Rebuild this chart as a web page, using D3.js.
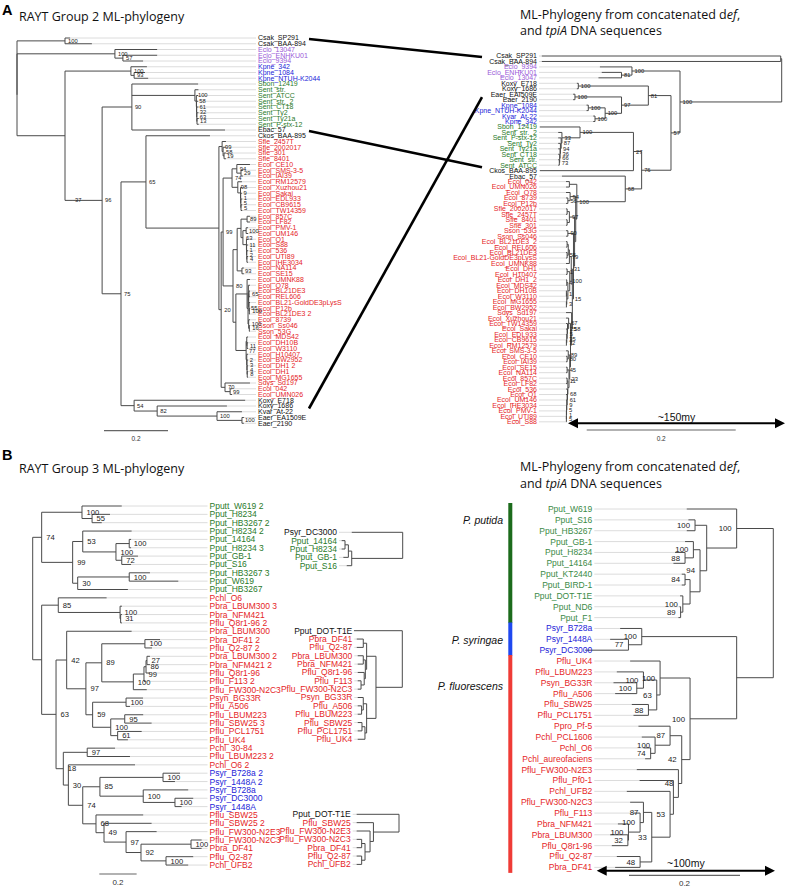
<!DOCTYPE html>
<html><head><meta charset="utf-8">
<script src="https://cdn.jsdelivr.net/npm/d3@7"></script>
<style>body{margin:0;background:#fff}</style>
</head><body>
<svg id="c" width="789" height="889" xmlns="http://www.w3.org/2000/svg"></svg>
<script>
// ---------------- DATA ----------------
// Trees in Newick form; the number after ':' is the node depth (distance from the root, substitutions/site);
// the text after ')' is the bootstrap support.
const treeA_left = `(
(Csak_SP291:0.166,Csak_BAA-894:0.234)100:0.150,
(
 (Eclo_13047:0.438,(Eclo_ENHKU01:0.438,Eclo_9394:0.394)57:0.331)100:0.306,
 (
  (Kpne_342:0.406,(Kpne_1084:0.400,Kpne_NTUH-K2044:0.410)93:0.366)100:0.356,
  (
   (
    (Sbon_12419:0.566,(Sent_str.:0.567,(Sent_ATCC:0.566,(Sent_str._2:0.566,(Sent_CT18:0.567,(Sent_Ty2:0.567,(Sent_Ty21a:0.568,Sent_P-stx-12:0.568)13:0.5625)63:0.562)32:0.5615)61:0.561)58:0.5605)100:0.556,
    Ebac_57:0.650
   )90:0.359,
   (
    (Ckos_BAA-895:0.603,
     (
      (Sfle_2457T:0.653,(Sfle_2002017:0.653,(Sfle_301:0.653,Sfle_8401:0.653)19:0.647)58:0.644)99:0.641,
      (
       (
        (
         (Ecol_CE10:0.728,(Ecol_SMS-3-5:0.706,Ecol_IAI39:0.706)29:0.700)94:0.687,
         (Ecol_RM12579:0.703,(Ecol_Xuzhou21:0.703,(Ecol_Sakai:0.703,(Ecol_EDL933:0.704,(Ecol_CB9615:0.704,Ecol_TW14359:0.704)5:0.700)5:0.6995)1:0.699)9:0.6985)98:0.690
        )74:0.672,
        (
         (
          ((Ecol_857C:0.728,Ecol_LF82:0.728)89:0.719,((Ecol_PMV-1:0.722,Ecol_UM146:0.722)100:0.716,(Ecol_O1:0.722,(Ecol_S88:0.722,(Ecol_536:0.722,(Ecol_UTI89:0.722,Ecol_IHE3034:0.722)4:0.7185)2:0.718)1:0.7175)11:0.717)63:0.706):0.700,
          (Ecol_NA114:0.709,Ecol_SE15:0.709)93:0.703
         ):0.688,
         (
          (Ecol_UMNK88:0.728,((Ecol_O78:0.728,((Ecol_BL21DE3:0.728,Ecol_REL606:0.728)65:0.725,(Ecol_BL21-GoldDE3pLysS:0.728,(Ecol_P12b:0.728,Ecol_BL21DE3 2:0.728)100:0.726):0.725):0.724):0.723,(Ecol_8739:0.728,(Sson_Ss046:0.728,Sson_53G:0.728)16:0.726)100:0.724)55:0.722):0.719,
          ((Ecol_MDS42:0.722,(Ecol_DH10B:0.722,Ecol_W3110:0.722)11:0.719):0.718,(Ecol_H10407:0.722,(Ecol_BW2952:0.722,(Ecol_DH1 2:0.722,(Ecol_DH1:0.722,Ecol_MG1655:0.722)8:0.7195)4:0.719)3:0.7185)2:0.718)77:0.716
         ):0.684
        )80:0.675
       )99:0.644,
       (Sdys_Sd197:0.728,(Ecol_042:0.672,Ecol_UMN026:0.672)99:0.666)70:0.650
      )20:0.638
     ):0.631
    )65:0.403,
    (Koxy_E718:0.713,(Koxy_1686:0.656,(Kvar_At-22:0.703,(Eaer_EA1509E:0.709,Eaer_2190:0.709)100:0.703)100:0.625)82:0.438)54:0.366
   )75:0.325
  )96:0.266
 )37:0.172
):0.150
):0`;

const treeA_right = `(
(Csak_SP291:0.322,Csak_BAA-894:0.322):0.0013,
(
 (Eclo_9394:0.244,(Eclo_ENHKU01:0.2416,Eclo_13047:0.246)81:0.215)100:0.201,
 (
  (
   (Koxy_E718:0.275,Koxy_1686:0.275)100:0.273,
   ((Eaer_EAI509E:0.280,Eaer_2190:0.280)100:0.2775,((Kpne_1084:0.262,Kpne_NTUH-K2044:0.262)100:0.2596,(Kvar_At-22:0.253,Kpne_342:0.253)100:0.2506)100:0.237)97:0.215
  )81:0.179,
  (
   (
    (Sbon_12419:0.3245,(Sent_str._2:0.300,(Sent_P-stx-12:0.300,(Sent_Ty2:0.300,(Sent_Ty21a:0.300,(Sent_CT18:0.300,(Sent_str.:0.300,Sent_ATCC:0.300)73:0.2985)66:0.298)36:0.2975)94:0.297)87:0.296)33:0.295)100:0.2707,
    Ckos_BAA-895:0.3245
   )27:0.199,
   (
    Ebac_57:0.295,
    (
     (Ecol_042:0.2895,Ecol_UMN026:0.2895):0.285,
     (
      (Ecol_O78:0.2895,(Ecol_8739:0.2895,Ecol_P12b:0.2895)56:0.287)94:0.284,
      (
       ((Sfle_2002017:0.2895,Sfle_2457T:0.2895):0.288,(Sfle_8401:0.2895,Sfle_301:0.2895):0.288)97:0.285,
       (
        (Sson_53G:0.2895,Sson_Ss046:0.2895)90:0.287,
        (
         (
          (((Ecol_BL21DE3_2:0.2895,Ecol_REL606:0.2895):0.288,(Ecol_BL21DE3:0.2895,Ecol_BL21-GoldDE3pLysS:0.2895)55:0.288):0.2865,Ecol_UMNK88:0.2895)79:0.285,
          ((Ecol_DH1:0.2895,Ecol_H10407:0.2895)1:0.288,((Ecol_DH1_2:0.2895,Ecol_MDS42:0.2895)4:0.2885,((Ecol_DH10B:0.2895,Ecol_W3110:0.2895)1:0.289,(Ecol_MG1655:0.2895,Ecol_BW2952:0.2895)3:0.289):0.2885):0.287)100:0.2845
         )31:0.2825,
         (
          Sdys_Sd197:0.2895,
          (
           (Ecol_Xuzhou21:0.2895,(Ecol_TW14359:0.2895,(Ecol_Sakai:0.2895,(Ecol_EDL933:0.2895,(Ecol_CB9615:0.2895,Ecol_RM12579:0.2895)72:0.289)35:0.2885)5:0.288)25:0.2875)67:0.286,
           (
            (Ecol_SMS-3-5:0.2895,(Ecol_CE10:0.2895,Ecol_IAI39:0.2895)80:0.288)89:0.2865,
            ((Ecol_SE15:0.2895,Ecol_NA114:0.2895)45:0.288,((Ecol_857C:0.2895,Ecol_LF82:0.2895)11:0.288,(Ecol_536:0.2895,(Ecol_O1:0.2895,(Ecol_UM146:0.2895,(Ecol_IHE3034:0.2895,(Ecol_PMV-1:0.2895,(Ecol_UTI89:0.2895,Ecol_S88:0.2895)5:0.289)1:0.289)5:0.2888)9:0.2885)61:0.288)68:0.2875):0.287)23:0.2855
           ):0.2845
          ):0.2835
         )58:0.282
        )15:0.281
       ):0.2795
      ):0.278
     ):0.2765
    )100:0.275
   )68:0.210
  )76:0.188
 )57:0.1486
)100:0.1365
):0`;

const treeB_left = `(
 (
  (Pputt_W619 2:0.477,(Pput_H8234:0.414,Pput_HB3267 2:0.370)55:0.318)100:0.264,
  (
   (Pput_H8234 2:0.530,((Pput_14164:0.527,Pput_H8234 3:0.527)100:0.517,(Pput_GB-1:0.564,Pput_S16:0.527)72:0.477)100:0.446)53:0.268,
   ((Pput_HB3267 3:0.628,Pput_W619:0.780)100:0.517,Pput_HB3267:0.510)30:0.241
  )99:0.214
 )74:0.048,
 (
  (Pchl_O6:0.396,(Pbra_LBUM300 3:0.478,(Pbra_NFM421:0.478,Pflu_Q8r1-96 2:0.478)31:0.471)100:0.468)85:0.137,
  (
   (
    Pbra_LBUM300:0.530,
    (
     (
      (Pbra_DF41 2:0.682,Pflu_Q2-87 2:0.639)100:0.601,
      ((((Pbra_LBUM300 2:0.628,Pbra_NFM421 2:0.628)27:0.612,Pflu_Q8r1-96:0.628)86:0.607,Pflu_F113 2:0.605)99:0.596,Pflu_FW300-N2C3:0.611)100:0.539
     )89:0.370,
     (
      (Psyn_BG33R:0.591,Pflu_A506:0.521)100:0.500,
      ((Pflu_LBUM223:0.592,Pflu_SBW25 3:0.637)95:0.493,(Pflu_PCL1751:0.584,Pflu_UK4:0.510)61:0.455)100:0.418
     )59:0.321
    )97:0.285
   )42:0.182,
   (
    (Pchl_30-84:0.441,Pflu_LBUM223 2:0.521)97:0.292,
    (
     Pchl_O6 2:0.548,
     (
      ((Psyr_B728a 2:0.789,Psyr_1448A 2:0.762)100:0.698,(Psyr_B728a:0.833,(Psyr_DC3000:0.860,Psyr_1448A:0.798)100:0.762)100:0.592)85:0.360,
      (Pflu_SBW25:0.592,(Pflu_SBW25 2:0.637,(Pflu_FW300-N2E3:0.664,((Pflu_FW300-N2C3:0.905,Pbra_DF41:0.905)100:0.848,(Pflu_Q2-87:0.860,Pchl_UFB2:0.833)100:0.714)92:0.580)97:0.500)49:0.382)68:0.339
     )74:0.268
    )30:0.191
   )18:0.164
  )63:0.125
 ):0.048
):0`;

const treeB_inset1 = `(Psyr_DC3000:0.273,(((Pput_14164:0.327,Pput_H8234:0.327):0.309,Pput_GB-1:0.318):0.291,Pput_S16:0.300):0.273):0`;
const treeB_inset2 = `(Pput_DOT-T1E:0.259,(((Pbra_DF41:0.244,Pflu_Q2-87:0.244):0.209,((Pbra_LBUM300:0.239,Pbra_NFM421:0.239):0.209,(Pflu_Q8r1-96:0.239,(Pflu_F113:0.239,Pflu_FW300-N2C3:0.239):0.221):0.204):0.198):0.191,((Psyn_BG33R:0.239,(Pflu_A506:0.239,Pflu_LBUM223:0.239):0.218):0.209,((Pflu_SBW25:0.239,Pflu_PCL1751:0.239):0.216,Pflu_UK4:0.239):0.200):0.191):0.141):0`;
const treeB_inset3 = `(Pput_DOT-T1E:0.227,(Pflu_SBW25:0.227,(Pflu_FW300-N2E3:0.227,((Pflu_FW300-N2C3:0.227,Pbra_DF41:0.227):0.200,(Pflu_Q2-87:0.227,Pchl_UFB2:0.227):0.200):0.182):0.155):0.137):0`;

const treeB_right = `(
 (Pput_W619:0.156,((Pput_S16:0.153,Pput_HB3267:0.156)100:0.141,((Pput_GB-1:0.159,(Pput_H8234:0.177,Pput_14164:0.180)88:0.159)100:0.144,((Pput_KT2440:0.165,Pput_BIRD-1:0.165)84:0.159,(Pput_DOT-T1E:0.168,(Pput_ND6:0.169,Pput_F1:0.171)89:0.167)100:0.163):0.150)94:0.132):0.120)100:0.066,
 (
  (Psyr_B728a:0.276,(Psyr_1448A:0.294,Psyr_DC3000:0.339)77:0.261)100:0.237,
  (
   (Pflu_UK4:0.258,((Pflu_LBUM223:0.282,(Psyn_BG33R:0.288,Pflu_A506:0.285)100:0.246)100:0.234,(Pflu_SBW25:0.255,Pflu_PCL1751:0.252)88:0.225)63:0.210)100:0.204,
   (
    (Ppro_Pf-5:0.243,(Pchl_PCL1606:0.237,(Pchl_O6:0.234,Pchl_aureofaciens:0.231)74:0.221)100:0.213)87:0.186,
    (Pflu_FW300-N2E3:0.246,(Pflu_Pf0-1:0.241,(Pchl_UFB2:0.264,((Pflu_FW300-N2C3:0.258,(Pflu_F113:0.252,(Pbra_NFM421:0.280,(Pbra_LBUM300:0.294,Pflu_Q8r1-96:0.291)32:0.262)100:0.261)100:0.240)87:0.234,(Pflu_Q2-87:0.282,Pbra_DF41:0.285)48:0.240)33:0.219)53:0.186):0.180)48:0.171
   )42:0.165
  )100:0.150
 ):0.066
):0`;

// species prefix -> colour group
const prefixesA_left  = [["Csak","k"],["Eclo","p"],["Kpne","b"],["Sbon","g"],["Sent","g"],["Ebac","k"],["Ckos","k"],["Koxy","k"],["Kvar","k"],["Eaer","k"],["Ecol","r"],["Sfle","r"],["Sson","r"],["Sdys","r"]];
const prefixesA_right = [["Csak","k"],["Eclo","p"],["Kpne","b"],["Kvar","b"],["Sbon","g"],["Sent","g"],["Ebac","k"],["Ckos","k"],["Koxy","k"],["Eaer","k"],["Ecol","r"],["Sfle","r"],["Sson","r"],["Sdys","r"]];
const prefixesB = [["Pput","g"],["Psyr","b"],["Pflu","r"],["Pbra","r"],["Pchl","r"],["Psyn","r"],["Ppro","r"]];
const palette = {k:"#111111", p:"#9a5ad8", b:"#2323d8", g:"#2a7a2a", r:"#e5251f"};

const titles = {
  A: "A", A1: "RAYT Group 2 ML-phylogeny",
  B: "B", B1: "RAYT Group 3 ML-phylogeny",
  right1: ["ML-Phylogeny from concatenated d", "ef", ","],
  right2: ["and ", "tpiA", " DNA sequences"]
};
const scaleValue = 0.2;
const timeLabels = ["~150my", "~100my"];
const speciesGroups = [
  {name:"P. putida",     prefix:["Pput"], color:"#1c6b1c", labelLeaf:"Pput_S16", dy:0},
  {name:"P. syringae",   prefix:["Psyr"], color:"#1f48f0", labelLeaf:"Psyr_1448A", dy:1},
  {name:"P. fluorescens",prefix:["Pflu","Psyn","Pchl","Ppro","Pbra"], color:"#ef3b36", labelLeaf:"Psyn_BG33R", dy:4}
];
const connectors = [
  ["Csak_SP291", 1, "Csak_SP291", 1],
  ["Ebac_57", 1, "Ckos_BAA-895", -3.5],
  ["Koxy_1686", 2.5, "Eaer_2190", -2.5]
];

// ---------------- CODE ----------------
function parseTree(s){
  let i = 0;
  const ws = () => { while (i < s.length && /\s/.test(s[i])) i++; };
  const token = () => { let t = ""; while (i < s.length && !"(),:;".includes(s[i])) { t += s[i]; i++; } return t.trim(); };
  const num = () => { if (s[i] === ":") { i++; return parseFloat(token()); } return 0; };
  function node(){
    ws();
    if (s[i] === "(") {
      i++; const children = [];
      for (;;) { children.push(node()); ws(); if (s[i] === ",") { i++; continue; } if (s[i] === ")") { i++; break; } break; }
      const label = token(); const depth = num();
      return {children, label, depth};
    }
    const name = token(); const depth = num();
    return {name, depth};
  }
  return node();
}

const svg = d3.select("#c");
svg.attr("font-family", "'Liberation Sans', Arial, sans-serif");

function colorFrom(prefixes){
  const m = new Map(prefixes);
  return name => palette[m.get(name.slice(0,4))] || "#111";
}

function drawTree(src, o){
  const root = d3.hierarchy(parseTree(src), d => d.children);
  const leaves = root.leaves();
  const yS = d3.scaleLinear().domain([0, 1]).range([o.y0, o.y0 + o.dy]);
  const xS = d3.scaleLinear().domain([0, 1]).range([o.rootX, o.rootX + o.dir * o.px]);
  leaves.forEach((l, i) => l.y = yS(i));
  root.eachAfter(n => { if (n.children) n.y = (n.children[0].y + n.children[n.children.length - 1].y) / 2; });
  root.each(n => n.x = xS(n.data.depth));
  const g = svg.append("g");
  // leader lines
  const gapX = o.labelX - o.dir * 2;
  g.append("g").selectAll("line").data(leaves.filter(l => (gapX - l.x) * o.dir > 0.5)).join("line")
    .attr("x1", d => d.x).attr("x2", gapX).attr("y1", d => d.y).attr("y2", d => d.y)
    .attr("stroke", "#d8d8d8").attr("stroke-width", 0.9);
  // branches
  let p = "";
  root.each(n => {
    if (n.parent) p += `M${n.parent.x},${n.y}H${n.x}`;
    if (n.children) p += `M${n.x},${n.children[0].y}V${n.children[n.children.length - 1].y}`;
  });
  g.append("path").attr("d", p).attr("fill", "none").attr("stroke", o.branch || "#4a4a4a").attr("stroke-width", 1);
  // leaf labels
  g.append("g").selectAll("text").data(leaves).join("text")
    .attr("x", o.labelX).attr("y", d => d.y).attr("dy", "0.35em")
    .attr("text-anchor", o.dir > 0 ? "start" : "end")
    .attr("font-size", o.fs)
    .attr("fill", (d, i) => (o.blackFirst && i === 0) ? "#111" : o.color(d.data.name))
    .text(d => d.data.name);
  // support values
  const internals = root.descendants().filter(n => n.children && n.data.label);
  g.append("g").selectAll("text").data(internals).join("text")
    .attr("x", d => d.x + o.bsDx).attr("y", d => d.y).attr("dy", "0.35em")
    .attr("text-anchor", o.bsAnchor).attr("font-size", o.bsFs).attr("fill", "#222")
    .text(d => d.data.label);
  const pos = new Map(); leaves.forEach(l => pos.set(l.data.name, l));
  return {pos, xS, leaves};
}

function scaleBar(xS, x0, y, fs, ty){
  const len = Math.abs(xS(scaleValue) - xS(0));
  svg.append("line").attr("x1", x0).attr("x2", x0 + len).attr("y1", y).attr("y2", y).attr("stroke", "#666").attr("stroke-width", 1.2);
  svg.append("text").attr("x", x0 + len / 2).attr("y", ty).attr("text-anchor", "middle").attr("font-size", fs).attr("fill", "#333").text(String(scaleValue));
}

function timeArrow(x1, x2, y, label, ty){
  svg.append("line").attr("x1", x1 + 6).attr("x2", x2 - 6).attr("y1", y).attr("y2", y).attr("stroke", "#000").attr("stroke-width", 2);
  svg.append("path").attr("d", `M${x1},${y}L${x1 + 10},${y - 5}L${x1 + 10},${y + 5}Z M${x2},${y}L${x2 - 10},${y - 5}L${x2 - 10},${y + 5}Z`).attr("fill", "#000");
  svg.append("text").attr("x", (x1 + x2) / 2).attr("y", ty).attr("text-anchor", "middle").attr("font-size", 10.5).attr("fill", "#111").text(label);
}

function rightTitle(x, y1, y2){
  const t1 = svg.append("text").attr("x", x).attr("y", y1).attr("font-family", "'Open Sans', sans-serif").attr("font-size", 12.5).attr("fill", "#111");
  t1.append("tspan").text(titles.right1[0]);
  t1.append("tspan").attr("font-style", "italic").text(titles.right1[1]);
  t1.append("tspan").text(titles.right1[2]);
  const t2 = svg.append("text").attr("x", x).attr("y", y2).attr("font-family", "'Open Sans', sans-serif").attr("font-size", 12.5).attr("fill", "#111");
  t2.append("tspan").text(titles.right2[0]);
  t2.append("tspan").attr("font-style", "italic").text(titles.right2[1]);
  t2.append("tspan").text(titles.right2[2]);
}
function leftTitle(letter, txt, yl, yt){
  svg.append("text").attr("x", 2).attr("y", yl).attr("font-weight", "bold").attr("font-size", 14.5).attr("fill", "#000").text(letter);
  svg.append("text").attr("x", 19).attr("y", yt).attr("font-family", "'Open Sans', sans-serif").attr("font-size", 12.5).attr("fill", "#111").text(txt);
}

// ----- Panel A -----
leftTitle(titles.A, titles.A1, 14.5, 20.5);
rightTitle(520, 18.5, 35);
const A1 = drawTree(treeA_left, {rootX:17, px:320, dir:1, y0:38, dy:5.75, labelX:258, fs:7, bsFs:5.8, bsDx:3, bsAnchor:"start", color:colorFrom(prefixesA_left)});
const A2 = drawTree(treeA_right, {rootX:781.7, px:745, dir:-1, y0:56, dy:5.46, labelX:537, fs:7, bsFs:5.8, bsDx:2.5, bsAnchor:"start", color:colorFrom(prefixesA_right)});
scaleBar(A1.xS, 104, 430.7, 6.5, 441);
scaleBar(A2.xS, 586.7, 430, 6.5, 441);
timeArrow(568, 785, 423.3, timeLabels[0], 420.5);
connectors.forEach(([ln, ld, rn, rd]) => {
  svg.append("line").attr("x1", 309).attr("y1", A1.pos.get(ln).y + ld).attr("x2", 482).attr("y2", A2.pos.get(rn).y + rd)
    .attr("stroke", "#000").attr("stroke-width", 2.6);
});

// ----- Panel B -----
leftTitle(titles.B, titles.B1, 459.5, 473);
rightTitle(520, 470.5, 487.5);
const colB = colorFrom(prefixesB);
const B1 = drawTree(treeB_left, {rootX:32.7, px:186.7, dir:1, y0:506, dy:8.35, labelX:209.5, fs:8.5, bsFs:7.6, bsDx:4.5, bsAnchor:"start", color:colB});
drawTree(treeB_inset1, {rootX:402.7, px:186.7, dir:-1, y0:532.3, dy:8.35, labelX:337, fs:8.5, bsFs:7.5, bsDx:0, bsAnchor:"start", color:colB, blackFirst:true});
drawTree(treeB_inset2, {rootX:402.3, px:186.7, dir:-1, y0:630.7, dy:8.35, labelX:352.3, fs:8.5, bsFs:7.5, bsDx:0, bsAnchor:"start", color:colB, blackFirst:true});
drawTree(treeB_inset3, {rootX:399, px:186.7, dir:-1, y0:814.3, dy:8.35, labelX:350.7, fs:8.5, bsFs:7.5, bsDx:0, bsAnchor:"start", color:colB, blackFirst:true});
const B2 = drawTree(treeB_right, {rootX:773.3, px:555, dir:-1, y0:509, dy:10.86, labelX:592.3, fs:8.5, bsFs:7.8, bsDx:-5, bsAnchor:"end", color:d => colB(d).replace(palette.g, "#3a8a46")});
scaleBar(B1.xS, 99.3, 874, 8, 885);
scaleBar(B2.xS, 629, 875.3, 8, 886);
timeArrow(596.7, 775, 870.7, timeLabels[1], 867);

// species bars
speciesGroups.forEach(gr => {
  const ls = B2.leaves.filter(l => gr.prefix.includes(l.data.name.slice(0, 4)));
  const y1 = d3.min(ls, l => l.y) - 6, y2 = d3.max(ls, l => l.y) + 5.5;
  svg.append("rect").attr("x", 508.3).attr("y", y1).attr("width", 4).attr("height", y2 - y1).attr("fill", gr.color);
  svg.append("text").attr("x", 503).attr("y", B2.pos.get(gr.labelLeaf).y + gr.dy).attr("dy", "0.35em")
    .attr("text-anchor", "end").attr("font-style", "italic").attr("font-size", 10.5).attr("fill", "#111").text(gr.name);
});
</script>
</body></html>
